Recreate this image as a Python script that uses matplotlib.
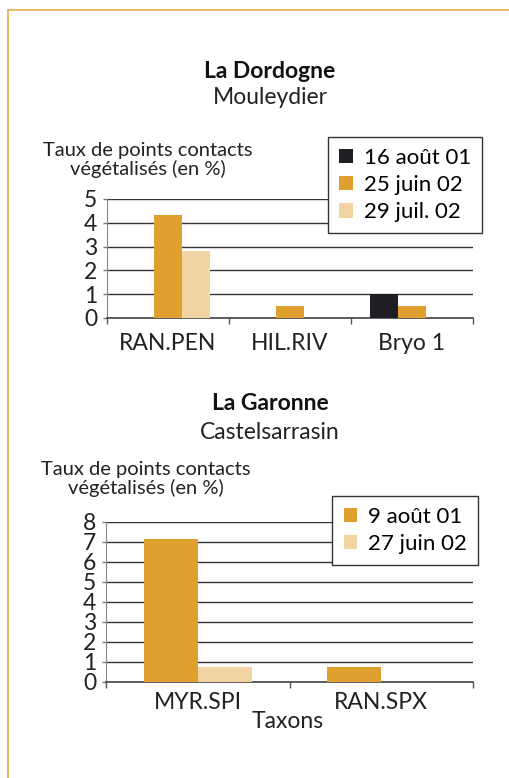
import matplotlib
matplotlib.use("Agg")
import matplotlib.pyplot as plt
import numpy as np
from matplotlib.lines import Line2D

plt.rcParams['font.family'] = ['Lato', 'DejaVu Sans']

# ---- data ----
cats1 = ["RAN.PEN", "HIL.RIV", "Bryo 1"]
series1 = ["16 août 01", "25 juin 02", "29 juil. 02"]
vals1_aug01 = [0, 0, 1.0]
vals1_jun02 = [4.33, 0.5, 0.5]
vals1_jul02 = [2.83, 0, 0]
yticks1 = [0, 1, 2, 3, 4, 5]

cats2 = ["MYR.SPI", "RAN.SPX"]
series2 = ["9 août 01", "27 juin 02"]
vals2_aug01 = [7.13, 0.75]
vals2_jun02 = [0.75, 0]
yticks2 = [0, 1, 2, 3, 4, 5, 6, 7, 8]

C_BLACK = "#1e1e24"
C_ORANGE = "#e0a030"
C_LIGHT = "#f1d4a2"
FRAME = "#e9b764"

W, H = 510, 778
fig = plt.figure(figsize=(W / 100, H / 100), dpi=100)

def fx(px):
    return px / W

def fy(py):
    return 1 - py / H

# frame lines
fig.add_artist(Line2D([fx(8), 1], [fy(10), fy(10)], color=FRAME, lw=1.4))
fig.add_artist(Line2D([fx(8), fx(8)], [0, fy(10)], color=FRAME, lw=1.4))

FS = 16.5
LFS = 16


def draw(ax, cats, series_vals, series_names, colors, yticks, width, legend_anchor, xpad):
    n = len(series_vals)
    x = np.arange(len(cats))
    for i, (vals, name, col) in enumerate(zip(series_vals, series_names, colors)):
        off = (i - (n - 1) / 2) * width
        ax.bar(x + off, vals, width=width, color=col, label=name, zorder=3, linewidth=0)
    ax.set_xlim(-0.5, len(cats) - 0.5)
    ax.set_ylim(0, yticks[-1])
    ax.set_yticks(yticks)
    ax.set_yticklabels([str(t) for t in yticks])
    ax.yaxis.grid(True, color="#333333", lw=1.0, zorder=0)
    ax.set_xticks(x)
    ax.set_xticklabels(cats)
    ax.set_xticks(np.arange(len(cats) + 1) - 0.5, minor=True)
    ax.tick_params(axis='x', which='major', length=0, pad=xpad, labelsize=FS, colors="#222222")
    ax.tick_params(axis='x', which='minor', length=4, width=1, color="#555555")
    ax.tick_params(axis='y', length=3, width=1, color="#777777", pad=4, labelsize=FS, labelcolor="#222222")
    for s in ("top", "right"):
        ax.spines[s].set_visible(False)
    ax.spines["left"].set_color("#888888")
    ax.spines["left"].set_linewidth(0.8)
    ax.spines["bottom"].set_color("#444444")
    ax.spines["bottom"].set_linewidth(1.2)
    leg = ax.legend(loc="upper right", bbox_to_anchor=legend_anchor,
                    bbox_transform=fig.transFigure, frameon=True, fancybox=False,
                    fontsize=LFS, handlelength=0.6, handleheight=0.6,
                    handletextpad=0.5, labelspacing=0.32, borderpad=0.5,
                    borderaxespad=0)
    leg.get_frame().set_edgecolor("#333333")
    leg.get_frame().set_linewidth(1.0)
    leg.get_frame().set_alpha(1)
    leg.set_zorder(10)


# chart 1
ax1 = fig.add_axes([fx(107), fy(318), fx(473) - fx(107), fy(199) - fy(318)])
draw(ax1, cats1, [vals1_aug01, vals1_jun02, vals1_jul02], series1,
     [C_BLACK, C_ORANGE, C_LIGHT], yticks1, 0.23, (fx(482), fy(137)), 11)

# chart 2
ax2 = fig.add_axes([fx(106), fy(682), fx(473) - fx(106), fy(522) - fy(682)])
draw(ax2, cats2, [vals2_aug01, vals2_jun02], series2,
     [C_ORANGE, C_LIGHT], yticks2, 0.295, (fx(478), fy(496)), 7)

# titles
fig.text(fx(270), fy(72), "La Dordogne", ha="center", va="center", fontsize=FS, fontweight="bold", color="#111111")
fig.text(fx(270), fy(98), "Mouleydier", ha="center", va="center", fontsize=FS, color="#222222")
fig.text(fx(148), fy(160), "Taux de points contacts\nvégétalisés (en %)", ha="center", va="center",
         fontsize=14.5, linespacing=1.0, color="#222222")

fig.text(fx(270), fy(404), "La Garonne", ha="center", va="center", fontsize=FS, fontweight="bold", color="#111111")
fig.text(fx(270), fy(432), "Castelsarrasin", ha="center", va="center", fontsize=FS, color="#222222")
fig.text(fx(146), fy(479), "Taux de points contacts\nvégétalisés (en %)", ha="center", va="center",
         fontsize=14.5, linespacing=1.0, color="#222222")

fig.text(fx(288), fy(722), "Taxons", ha="center", va="center", fontsize=FS, color="#222222")

fig.savefig("out.png", dpi=100, facecolor="white")
